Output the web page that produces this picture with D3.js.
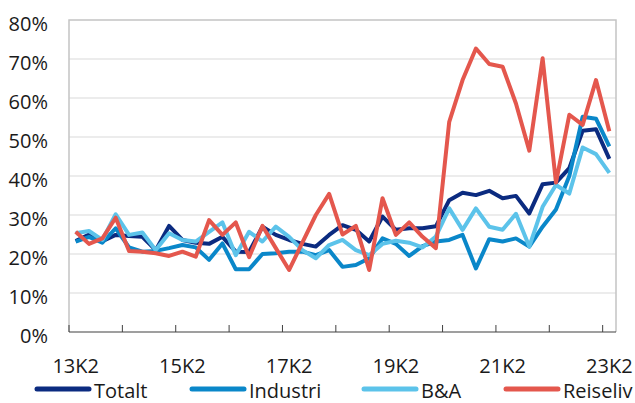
<!DOCTYPE html>
<html>
<head>
<meta charset="utf-8">
<script src="https://cdn.jsdelivr.net/npm/d3@7"></script>
<style>
  body { margin: 0; background: #fff; }
  text { font-family: "Open Sans", sans-serif; fill: #1a1a1a; }
</style>
</head>
<body>
<div id="root"></div>
<script>
// quarters 13K2 .. 23K2
var quarters = [];
for (var yr = 13; yr <= 23; yr++) {
  [1, 2, 3, 4].forEach(k => {
    if ((yr === 13 && k < 2) || (yr === 23 && k > 2)) return;
    quarters.push(yr + 'K' + k);
  });
}

var xTickLabels = ['13K2', '15K2', '17K2', '19K2', '21K2', '23K2'];
var yTicks = [0, 0.1, 0.2, 0.3, 0.4, 0.5, 0.6, 0.7, 0.8];

var totalt = [23.3, 25, 23.3, 24.9, 24.6, 24.4, 21, 27.2, 23.6, 22.9, 22.6, 24.4, 20.6, 20.5,
  27, 24.9, 23.6, 22.6, 21.9, 24.9, 27.4, 26.2, 23.2, 29.6, 26.2, 26.6, 26.6, 27.1,
  33.8, 35.7, 35.1, 36.2, 34.3, 34.9, 30.4, 37.9, 38.3, 42, 51.6, 52, 44.4];
var industri = [23.2, 24.4, 22.9, 26.6, 21.7, 20.6, 20.8, 21.5, 22.3, 21.7, 18.5, 22.7, 16.1, 16.1,
  20, 20.2, 20.6, 20.6, 19.7, 21, 16.7, 17.2, 18.9, 24, 22.6, 19.5, 22, 23.2,
  23.6, 24.9, 16.3, 23.8, 23.2, 24, 21.9, 27, 31.4, 40, 55.2, 54.7, 47.6];
var ba = [25.3, 25.9, 23.6, 30.2, 24.9, 25.5, 21, 25.3, 23.6, 23.2, 25.7, 28.1, 19.7, 25.7,
  23.2, 27, 24.4, 21, 18.9, 22.3, 23.6, 21, 19.7, 22.6, 23.4, 22.9, 21.7, 24.5,
  31.7, 26.2, 31.7, 27, 26.2, 30.3, 21.9, 32.1, 37.7, 35.5, 47.3, 45.6, 40.8];
var reiseliv = [25.7, 22.6, 24, 29.3, 20.8, 20.6, 20.2, 19.5, 20.6, 19.3, 28.7, 24.9, 28.1, 19.2,
  27.2, 21.5, 15.9, 23, 30, 35.4, 25, 27.2, 15.9, 34.3, 24.9, 28.1, 24.4, 21.5,
  53.9, 64.6, 72.7, 68.7, 68, 58.6, 46.5, 70.2, 38.3, 55.7, 53.1, 64.6, 51.5];

var seriesNames = ['Totalt', 'Industri', 'B&A', 'Reiseliv'];
var seriesColors = ['#0b2b80', '#0a87c9', '#5cc3ea', '#e4574d'];
var seriesValues = [totalt, industri, ba, reiseliv];

var width = 635, height = 403;
var plotLeft = 69, plotRight = 616, plotTop = 20, plotBottom = 332;

var svg = d3.select('#root')
  .append('svg')
    .attr('width', width)
    .attr('height', height);

var x = d3.scaleBand()
  .domain(quarters)
  .range([plotLeft, plotRight]);

var y = d3.scaleLinear()
  .domain([0, 0.8])
  .range([plotBottom, plotTop]);

// gridlines
svg.append('g')
  .selectAll('line')
  .data(yTicks.slice(1, -1))
  .enter()
  .append('line')
    .attr('x1', plotLeft)
    .attr('x2', plotRight)
    .attr('y1', d => y(d))
    .attr('y2', d => y(d))
    .attr('stroke', '#d9d9d9')
    .attr('stroke-width', 1);

// plot box
svg.append('path')
  .attr('d', `M${plotLeft},${plotBottom}V${plotTop}H${plotRight}V${plotBottom}`)
  .attr('fill', 'none')
  .attr('stroke', '#c4c4c4')
  .attr('stroke-width', 1.5);

// y axis labels
var yAxis = d3.axisLeft(y)
  .tickValues(yTicks)
  .tickSize(0)
  .tickPadding(21)
  .tickFormat(d3.format('.0%'));

svg.append('g')
  .attr('transform', `translate(${plotLeft},0)`)
  .call(yAxis)
  .call(g => g.select('.domain').remove())
  .selectAll('text')
    .attr('font-size', 20)
    .attr('font-family', '"Open Sans", sans-serif')
    .attr('fill', '#1a1a1a')
    .attr('dy', '0.5em');

// x axis: line, boundary ticks, labels
svg.append('line')
  .attr('x1', plotLeft)
  .attr('x2', plotRight)
  .attr('y1', plotBottom)
  .attr('y2', plotBottom)
  .attr('stroke', '#404040')
  .attr('stroke-width', 1.2);

svg.append('g')
  .selectAll('line')
  .data(quarters.filter((q, i) => i % 4 === 0))
  .enter()
  .append('line')
    .attr('x1', d => x(d))
    .attr('x2', d => x(d))
    .attr('y1', plotBottom)
    .attr('y2', plotBottom - 7)
    .attr('stroke', '#404040')
    .attr('stroke-width', 1);

var xAxis = d3.axisBottom(x)
  .tickValues(xTickLabels)
  .tickSize(0)
  .tickPadding(27);

svg.append('g')
  .attr('transform', `translate(0,${plotBottom})`)
  .call(xAxis)
  .call(g => g.select('.domain').remove())
  .selectAll('text')
    .attr('font-size', 20)
    .attr('font-family', '"Open Sans", sans-serif')
    .attr('fill', '#1a1a1a');

// lines
var line = d3.line()
  .x((d, i) => x(quarters[i]) + x.bandwidth() / 2)
  .y(d => y(d / 100));

svg.append('g')
  .selectAll('path')
  .data(seriesValues)
  .enter()
  .append('path')
    .attr('d', d => line(d))
    .attr('fill', 'none')
    .attr('stroke', (d, i) => seriesColors[i])
    .attr('stroke-width', 4)
    .attr('stroke-linejoin', 'round');

// legend
var legendX = [37, 192, 364, 506];
var legend = svg.append('g')
  .selectAll('g')
  .data(seriesNames)
  .enter()
  .append('g')
    .attr('transform', (d, i) => `translate(${legendX[i]},389)`);

legend.append('line')
  .attr('x1', 0)
  .attr('x2', 52)
  .attr('stroke', (d, i) => seriesColors[i])
  .attr('stroke-width', 5)
  .attr('stroke-linecap', 'round');

legend.append('text')
  .attr('x', 57)
  .attr('y', 9)
  .attr('font-size', 20)
  .text(d => d);
</script>
</body>
</html>
